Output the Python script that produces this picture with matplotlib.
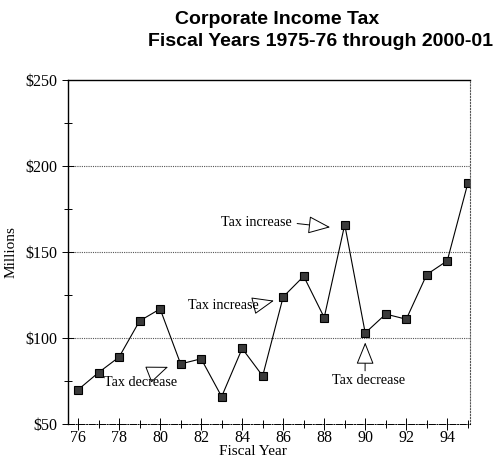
import matplotlib.pyplot as plt
from matplotlib.ticker import FixedLocator, FuncFormatter

# fiscal year (end year, 2 digits) and corporate income tax in $ millions
anos = [76, 77, 78, 79, 80, 81, 82, 83, 84, 85, 86, 87, 88, 89, 90, 91, 92, 93, 94, 95]
valores = [70, 80, 89, 110, 117, 85, 88, 66, 94, 78, 124, 136, 112, 166, 103, 114, 111, 137, 145, 190]

rotulosX = [76, 78, 80, 82, 84, 86, 88, 90, 92, 94]
rotulosY = [50, 100, 150, 200, 250]

serif = ['Liberation Serif', 'DejaVu Serif']
sans = ['Liberation Sans', 'DejaVu Sans']

fig = plt.figure(figsize=(4.95, 4.61), dpi=100)
ax = fig.add_axes([0.137, 0.080, 0.813, 0.746])

ax.plot(anos, valores, color='black', lw=0.8, marker='s', markersize=6,
        markerfacecolor='#3a3a3a', markeredgecolor='black', markeredgewidth=0.8)

ax.set_xlim(75.5, 95.12)
ax.set_ylim(50, 250)

ax.xaxis.set_major_locator(FixedLocator(rotulosX))
ax.xaxis.set_minor_locator(FixedLocator([77, 79, 81, 83, 85, 87, 89, 91, 93, 95]))
ax.yaxis.set_major_locator(FixedLocator(rotulosY))
ax.yaxis.set_minor_locator(FixedLocator([75, 125, 175, 225]))
ax.yaxis.set_major_formatter(FuncFormatter(lambda v, p: '${:d}'.format(int(v))))

ax.tick_params(axis='both', which='both', direction='inout', color='black', width=0.7)
ax.tick_params(axis='both', which='major', length=8, labelsize=11.5)
ax.tick_params(axis='both', which='minor', length=6)
ax.tick_params(axis='x', pad=0)
for t in ax.get_xticklabels() + ax.get_yticklabels():
    t.set_family(serif)

for g in [100, 150, 200]:
    ax.axhline(g, color='#555555', lw=0.8, ls=(0, (1, 1)), zorder=0)

ax.spines['top'].set_linewidth(1.0)
ax.spines['left'].set_linewidth(1.0)
ax.spines['bottom'].set_linestyle('-.')
ax.spines['bottom'].set_linewidth(0.7)
ax.spines['right'].set_linestyle(':')
ax.spines['right'].set_color('#555555')

ax.set_ylabel('Millions', family=serif, fontsize=11, labelpad=6)
ax.text(0.46, -0.06, 'Fiscal Year', transform=ax.transAxes, ha='center', va='top',
        family=serif, fontsize=11)


def seta(rel):
    return dict(arrowstyle='-|>,head_length=0.7,head_width=0.28', fc='white', ec='black',
                lw=0.7, mutation_scale=20, shrinkA=0, shrinkB=0, relpos=rel)


ax.annotate('Tax decrease', xy=(80.39, 83.3), xytext=(79.05, 74.4), ha='center', va='center',
            family=serif, fontsize=10.2, arrowprops=seta((0.5, 0.85)))
ax.annotate('Tax increase', xy=(85.55, 121.8), xytext=(83.07, 119.2), ha='center', va='center',
            family=serif, fontsize=10.2, arrowprops=seta((1.0, 0.55)))
ax.annotate('Tax increase', xy=(88.29, 164.5), xytext=(84.68, 167.4), ha='center', va='center',
            family=serif, fontsize=10.2, arrowprops=seta((1.08, 0.4)))
ax.annotate('Tax decrease', xy=(90.0, 97.5), xytext=(90.17, 75.6), ha='center', va='center',
            family=serif, fontsize=10.2, arrowprops=seta((0.45, 1.0)))

fig.text(277 / 495, 1 - 19 / 461, 'Corporate Income Tax', ha='center', va='center',
         family=sans, fontsize=14, fontweight='bold')
fig.text(320 / 495, 1 - 42 / 461, 'Fiscal Years 1975-76 through 2000-01', ha='center',
         va='center', family=sans, fontsize=14, fontweight='bold')

fig.savefig('out.png', dpi=100)
